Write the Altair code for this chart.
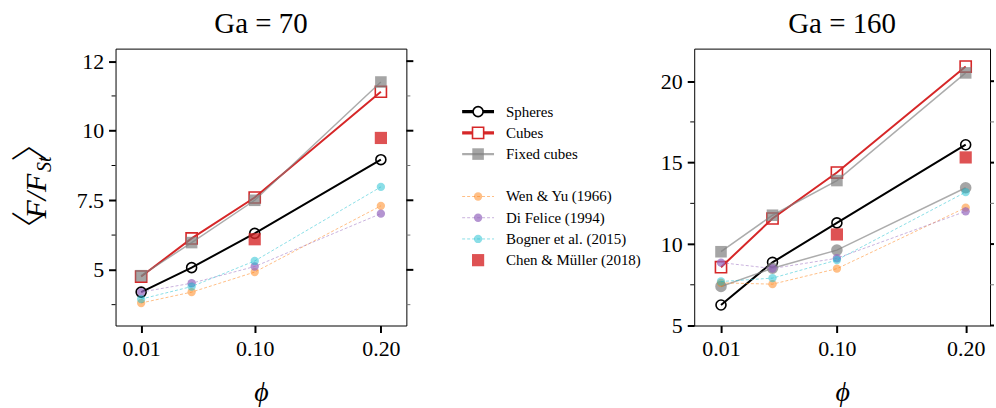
import altair as alt
import pandas as pd

FONT = "Liberation Serif, Times New Roman, DejaVu Serif, serif"
BRACKET_FONT = "Noto Sans CJK SC, DejaVu Sans"

# ---- data -------------------------------------------------------------
phi = [0.01, 0.05, 0.10, 0.20]
phi_chen = [0.10, 0.20]
phi_ticks = [0.01, 0.10, 0.20]

# Ga = 70
spheres_70 = [4.20, 5.08, 6.31, 8.96]
cubes_70 = [4.76, 6.13, 7.60, 11.40]
fixed_cubes_70 = [4.79, 5.98, 7.50, 11.75]
wen_yu_70 = [3.81, 4.20, 4.92, 7.30]
di_felice_70 = [4.20, 4.52, 5.12, 7.02]
bogner_70 = [3.95, 4.40, 5.32, 7.98]
chen_70 = [6.10, 9.74]

# Ga = 160
spheres_160 = [6.26, 8.88, 11.30, 16.10]
cubes_160 = [8.58, 11.57, 14.39, 20.90]
fixed_cubes_160 = [9.53, 11.77, 13.90, 20.51]
fixed_spheres_160 = [7.40, 8.52, 9.63, 13.46]
wen_yu_160 = [7.62, 7.54, 8.49, 12.24]
di_felice_160 = [8.86, 8.50, 9.13, 12.01]
bogner_160 = [7.70, 7.91, 9.02, 13.19]
chen_160 = [10.59, 15.32]

# axis ticks
y_ticks_70 = [5, 7.5, 10, 12.5]
y_labels_70 = ["5", "7.5", "10", "12"]
y_minor_70 = [3.75, 6.25, 8.75, 11.25]
y_ticks_160 = [5, 10, 15, 20]
y_labels_160 = ["5", "10", "15", "20"]
y_minor_160 = [7.5, 12.5, 17.5]

legend_main = ["Spheres", "Cubes", "Fixed cubes"]
legend_refs = ["Wen & Yu (1966)", "Di Felice (1994)", "Bogner et al. (2015)", "Chen & Müller (2018)"]

# ---- styles -----------------------------------------------------------
STYLE = {
    "Spheres": dict(color="black", line=2.0, dash=None, lop=1.0, shape="circle",
                    filled=False, size=100, mop=1.0, msw=1.6),
    "Cubes": dict(color="#d62728", line=2.0, dash=None, lop=1.0, shape="square",
                  filled=False, size=125, mop=1.0, msw=1.6),
    "Fixed cubes": dict(color="#7f7f7f", line=1.5, dash=None, lop=0.65, shape="square",
                        filled=True, size=135, mop=0.7, msw=0),
    "Fixed spheres": dict(color="#7f7f7f", line=1.5, dash=None, lop=0.65, shape="circle",
                          filled=True, size=135, mop=0.7, msw=0),
    "Wen & Yu (1966)": dict(color="#ff7f0e", line=1.0, dash=[3, 2], lop=0.5, shape="circle",
                            filled=True, size=70, mop=0.5, msw=0),
    "Di Felice (1994)": dict(color="#9467bd", line=1.0, dash=[3, 2], lop=0.5, shape="circle",
                             filled=True, size=70, mop=0.7, msw=0),
    "Bogner et al. (2015)": dict(color="#17becf", line=1.0, dash=[3, 2], lop=0.5, shape="circle",
                                 filled=True, size=70, mop=0.5, msw=0),
    "Chen & Müller (2018)": dict(color="#d62728", line=0, dash=None, lop=0, shape="square",
                                 filled=True, size=150, mop=0.8, msw=0),
}
DRAW_ORDER = ["Spheres", "Cubes", "Fixed cubes", "Fixed spheres",
              "Wen & Yu (1966)", "Di Felice (1994)", "Bogner et al. (2015)",
              "Chen & Müller (2018)"]

PLOT_H = 278


def label_expr(values, labels):
    expr = "''"
    for v, t in reversed(list(zip(values, labels))):
        expr = f"datum.value == {v} ? '{t}' : ({expr})"
    return expr


def series_layers(df, st, x, y):
    base = alt.Chart(df).encode(x=x, y=y)
    out = []
    if st["line"] > 0:
        kw = dict(color=st["color"], strokeWidth=st["line"], opacity=st["lop"])
        if st["dash"]:
            kw["strokeDash"] = st["dash"]
        out.append(base.mark_line(**kw))
    pkw = dict(shape=st["shape"], filled=st["filled"], size=st["size"], opacity=st["mop"])
    if st["filled"]:
        pkw["fill"] = st["color"]
        pkw["strokeWidth"] = 0
    else:
        pkw["stroke"] = st["color"]
        pkw["strokeWidth"] = st["msw"]
        pkw["fill"] = "transparent"
    out.append(base.mark_point(**pkw))
    return out


def panel(title, series, x_domain, y_domain, y_ticks, y_labels, y_minor, width,
          right_len, extra=()):
    x = alt.X("phi:Q",
              scale=alt.Scale(domain=x_domain, nice=False, zero=False),
              axis=alt.Axis(values=phi_ticks, format=".2f", title="ϕ",
                            titleFontStyle="italic", titleFontSize=28,
                            titlePadding=19, tickSize=7, tickWidth=2,
                            labelPadding=6, labelFlush=False))
    y = alt.Y("value:Q",
              scale=alt.Scale(domain=y_domain, nice=False, zero=False),
              axis=alt.Axis(values=y_ticks, labelExpr=label_expr(y_ticks, y_labels),
                            title=None, tickSize=7, tickWidth=2, labelPadding=5,
                            labelFlush=False))
    layers = []
    # minor ticks on the left, major + minor ticks on the right side of the frame
    minor_df = pd.DataFrame({"value": y_minor})
    major_df = pd.DataFrame({"value": [v for v in y_ticks if y_domain[0] <= v <= y_domain[1]]})
    layers.append(alt.Chart(minor_df).mark_rule(color="black", strokeWidth=1).encode(
        y=y, x=alt.value(0), x2=alt.value(-4)))
    layers.append(alt.Chart(minor_df).mark_rule(color="#777777", strokeWidth=1).encode(
        y=y, x=alt.value(width), x2=alt.value(width + min(4, right_len))))
    layers.append(alt.Chart(major_df).mark_rule(color="black", strokeWidth=2).encode(
        y=y, x=alt.value(width), x2=alt.value(width + right_len)))
    for name in DRAW_ORDER:
        if name not in series:
            continue
        xs, vals = series[name]
        df = pd.DataFrame({"phi": xs, "value": vals})
        layers += series_layers(df, STYLE[name], x, y)
    layers += list(extra)
    return alt.layer(*layers).properties(
        width=width, height=PLOT_H,
        title=alt.TitleParams(title, font=FONT, fontSize=29, fontWeight="normal",
                              offset=10, color="black"))


# rotated y-axis title  <F/F_St>
def ytitle_piece(text, size, style, x, y, baseline, angle=270, font=FONT, weight="normal"):
    return alt.Chart(pd.DataFrame({"t": [text]})).mark_text(
        angle=angle, font=font, fontSize=size, fontStyle=style, fontWeight=weight,
        baseline=baseline, align="center", color="black").encode(
        text="t:N", x=alt.value(x), y=alt.value(y))


ytitle = [
    ytitle_piece("〉", 37, "normal", -90, 181, "middle", 90, BRACKET_FONT, 200),
    ytitle_piece("F/F", 30, "italic", -70, 148, "alphabetic"),
    ytitle_piece("St", 20, "italic", -65, 116, "alphabetic"),
    ytitle_piece("〈", 37, "normal", -90, 95, "middle", 90, BRACKET_FONT, 200),
]

series_70 = {
    "Spheres": (phi, spheres_70),
    "Cubes": (phi, cubes_70),
    "Fixed cubes": (phi, fixed_cubes_70),
    "Wen & Yu (1966)": (phi, wen_yu_70),
    "Di Felice (1994)": (phi, di_felice_70),
    "Bogner et al. (2015)": (phi, bogner_70),
    "Chen & Müller (2018)": (phi_chen, chen_70),
}
series_160 = {
    "Spheres": (phi, spheres_160),
    "Cubes": (phi, cubes_160),
    "Fixed cubes": (phi, fixed_cubes_160),
    "Fixed spheres": (phi, fixed_spheres_160),
    "Wen & Yu (1966)": (phi, wen_yu_160),
    "Di Felice (1994)": (phi, di_felice_160),
    "Bogner et al. (2015)": (phi, bogner_160),
    "Chen & Müller (2018)": (phi_chen, chen_160),
}

left = panel("Ga = 70", series_70, [-0.0103, 0.2202], [3.0, 12.95], y_ticks_70,
             y_labels_70, y_minor_70, 292, 7, extra=ytitle)
right = panel("Ga = 160", series_160, [-0.0108, 0.2189], [5.0, 22.0], y_ticks_160,
              y_labels_160, y_minor_160, 297, 4)

# ---- legend column ----------------------------------------------------
LEG_W = 243
rows = [(n, i) for i, n in enumerate(legend_main)] + \
       [(n, i + len(legend_main) + 1) for i, n in enumerate(legend_refs)]
ly = alt.Y("row:Q", scale=alt.Scale(domain=[-2.97, 10.08], reverse=True, nice=False, zero=False),
           axis=None)
leg_layers = []
for name, r in rows:
    st = STYLE[name]
    df = pd.DataFrame({"row": [r], "label": [name]})
    base = alt.Chart(df)
    if st["line"] > 0:
        kw = dict(color=st["color"], strokeWidth=st["line"] * 1.6 if st["dash"] is None else 1.0,
                  opacity=st["lop"])
        if st["dash"]:
            kw["strokeDash"] = st["dash"]
        leg_layers.append(base.mark_rule(**kw).encode(y=ly, x=alt.value(46), x2=alt.value(78)))
    pkw = dict(shape=st["shape"], filled=st["filled"], size=st["size"], opacity=st["mop"])
    if st["filled"]:
        pkw["fill"] = st["color"]
        pkw["strokeWidth"] = 0
    else:
        pkw["stroke"] = st["color"]
        pkw["strokeWidth"] = st["msw"]
        pkw["fill"] = "white"
    leg_layers.append(base.mark_point(**pkw).encode(y=ly, x=alt.value(62)))
    leg_layers.append(base.mark_text(font=FONT, fontSize=15, align="left", baseline="middle",
                                     color="black").encode(y=ly, x=alt.value(90), text="label:N"))

legend = alt.layer(*leg_layers).properties(
    width=LEG_W, height=PLOT_H, view=alt.ViewBackground(stroke="transparent"))

chart = alt.hconcat(left, legend, right, spacing=0).properties(
    padding={"left": 7, "top": 8, "right": 0, "bottom": 0}
).configure_view(stroke="black", strokeWidth=1).configure_axis(
    labelFont=FONT, labelFontSize=22, labelColor="black", titleFont=FONT,
    titleFontWeight="normal", titleColor="black", tickColor="black",
    domain=False, grid=False
)

chart.save("out.html", embed_options={"renderer": "svg", "actions": False})
